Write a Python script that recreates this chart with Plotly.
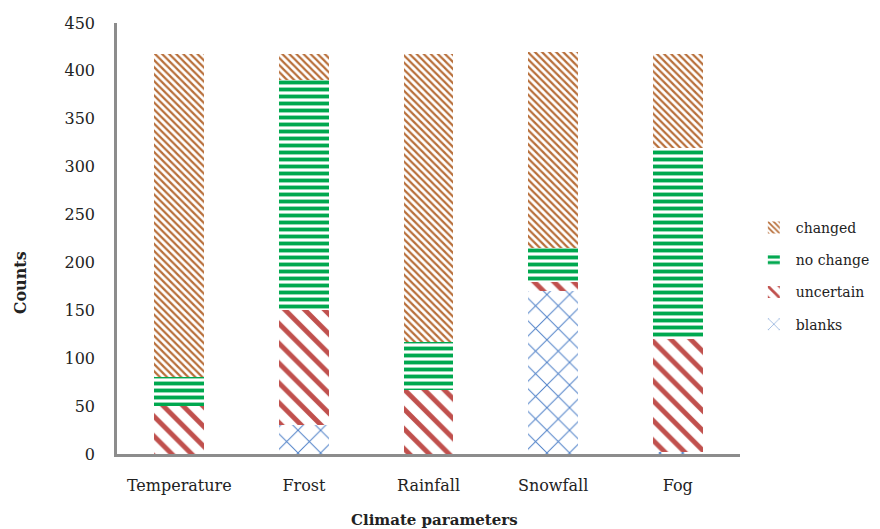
import plotly.graph_objects as go

categories = ["Temperature", "Frost", "Rainfall", "Snowfall", "Fog"]
blanks = [0, 30, 0, 170, 2]
uncertain = [50, 120, 67, 10, 118]
no_change = [30, 240, 50, 35, 199]
changed = [338, 28, 301, 205, 99]

series = [
    ("blanks", blanks, 4, dict(shape="x", fgcolor="#4f81c8", size=16, solidity=0.12)),
    ("uncertain", uncertain, 3, dict(shape="\\", fgcolor="#c0504d", size=14, solidity=0.35)),
    ("no change", no_change, 2, dict(shape="-", fgcolor="#00a84f", size=7, solidity=0.55)),
    ("changed", changed, 1, dict(shape="\\", fgcolor="#b86f3a", size=5, solidity=0.45)),
]

fig = go.Figure()
for name, vals, rank, pat in series:
    fig.add_trace(go.Bar(
        x=categories, y=vals, name=name, legendgroup=name, legendrank=rank,
        marker=dict(color="white", line=dict(width=0),
                    pattern=dict(bgcolor="white", fillmode="replace", fgopacity=1, **pat)),
    ))

font = "DejaVu Serif"
fig.update_layout(
    width=880, height=529,
    barmode="stack", bargap=0.6,
    paper_bgcolor="white", plot_bgcolor="white",
    margin=dict(l=109, r=148, t=15, b=83, autoexpand=False),
    font=dict(family=font, size=16, color="#222"),
    showlegend=True,
    legend=dict(x=1.019, y=0.5615, xanchor="left", yanchor="top",
                traceorder="grouped", font=dict(family=font, size=14),
                itemwidth=34, tracegroupgap=11, bgcolor="rgba(0,0,0,0)"),
    xaxis=dict(showline=True, linecolor="#8c8c8c", linewidth=2.5, ticks="", automargin=False,
               tickfont=dict(family=font, size=16), ticklabelstandoff=15),
    yaxis=dict(range=[0, 450], dtick=50, showline=True, linecolor="#8c8c8c", linewidth=2.5,
               showgrid=False, zeroline=False, ticks="", automargin=False,
               tickfont=dict(family=font, size=16), ticklabelstandoff=16),
    annotations=[
        dict(text="<b>Climate parameters</b>", xref="paper", yref="paper",
             x=0.51, y=-0.152, xanchor="center", yanchor="middle",
             showarrow=False, font=dict(family=font, size=15)),
        dict(text="<b>Counts</b>", xref="paper", yref="paper",
             x=-0.155, y=0.397, xanchor="center", yanchor="middle", textangle=-90,
             showarrow=False, font=dict(family=font, size=16)),
    ],
)

fig.write_html("out.html")
